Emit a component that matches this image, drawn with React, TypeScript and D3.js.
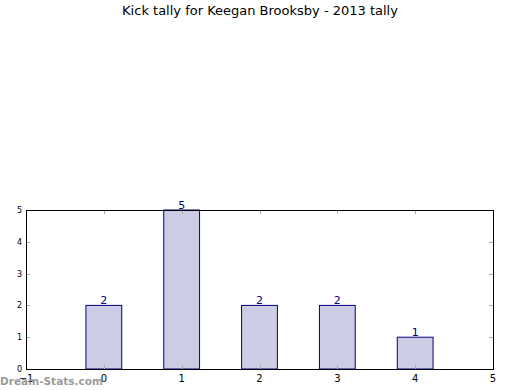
// @ts-nocheck
import React, { useEffect, useRef } from 'react';
import * as d3 from 'd3';

const categories = [0, 1, 2, 3, 4];
const tallies = [2, 5, 2, 2, 1];
const xTicks = [-1, 0, 1, 2, 3, 4, 5];
const yTicks = [0, 1, 2, 3, 4, 5];

const App: React.FC = () => {
  const ref = useRef<SVGSVGElement | null>(null);

  useEffect(() => {
    const svg = d3.select(ref.current);
    svg.selectAll('*').remove();

    const left = 26, right = 493, top = 210, bottom = 369;
    const x = d3.scaleLinear().domain([-1, 5]).range([left, right]);
    const y = d3.scaleLinear().domain([0, 5]).range([bottom, top]);
    const font = 'DejaVu Sans, sans-serif';

    svg.append('rect').attr('width', 520).attr('height', 390).attr('fill', '#fff');

    svg.append('text')
      .attr('x', 260).attr('y', 15)
      .attr('text-anchor', 'middle')
      .attr('font-family', font).attr('font-size', 13)
      .text('Kick tally for Keegan Brooksby - 2013 tally');

    const bw = 0.46;
    svg.selectAll('rect.bar')
      .data(categories)
      .enter()
      .append('rect')
      .attr('class', 'bar')
      .attr('x', (d) => x(d - bw / 2))
      .attr('width', (d) => x(d + bw / 2) - x(d - bw / 2))
      .attr('y', (d, i) => y(tallies[i]))
      .attr('height', (d, i) => bottom - y(tallies[i]))
      .attr('fill', '#ccccE5')
      .attr('stroke', '#000080')
      .attr('stroke-width', 1);

    svg.selectAll('text.val')
      .data(categories)
      .enter()
      .append('text')
      .attr('class', 'val')
      .attr('x', (d) => x(d))
      .attr('y', (d, i) => y(tallies[i]) - 1)
      .attr('text-anchor', 'middle')
      .attr('font-family', font).attr('font-size', 11)
      .attr('fill', '#000080')
      .text((d, i) => tallies[i]);

    // ticks (inward, top and bottom / left and right)
    const tick = svg.append('g').attr('stroke', '#aaa').attr('stroke-width', 1);
    xTicks.forEach((t) => {
      const px = Math.round(x(t)) + 0.5;
      tick.append('line').attr('x1', px).attr('x2', px).attr('y1', bottom).attr('y2', bottom - 4);
      tick.append('line').attr('x1', px).attr('x2', px).attr('y1', top).attr('y2', top + 4);
    });
    yTicks.forEach((t) => {
      const py = Math.round(y(t)) + 0.5;
      tick.append('line').attr('x1', left).attr('x2', left + 4).attr('y1', py).attr('y2', py);
      tick.append('line').attr('x1', right).attr('x2', right - 4).attr('y1', py).attr('y2', py);
    });

    svg.append('rect')
      .attr('x', left + 0.5).attr('y', top + 0.5)
      .attr('width', right - left).attr('height', bottom - top)
      .attr('fill', 'none').attr('stroke', '#000').attr('stroke-width', 1);

    svg.selectAll('text.xt')
      .data(xTicks)
      .enter()
      .append('text')
      .attr('class', 'xt')
      .attr('x', (d) => x(d))
      .attr('y', bottom + 13)
      .attr('text-anchor', 'middle')
      .attr('font-family', font).attr('font-size', 10)
      .text((d) => (d < 0 ? '\u2212' + Math.abs(d) : d));

    svg.selectAll('text.yt')
      .data(yTicks)
      .enter()
      .append('text')
      .attr('class', 'yt')
      .attr('x', left - 4)
      .attr('y', (d) => y(d) + 3)
      .attr('text-anchor', 'end')
      .attr('font-family', font).attr('font-size', 8)
      .text((d) => d);

    // watermark, drawn over the tick labels as in the original
    svg.append('text')
      .attr('x', 0).attr('y', 385)
      .attr('font-family', font).attr('font-size', 11).attr('font-weight', 'bold')
      .attr('textLength', 103).attr('lengthAdjust', 'spacingAndGlyphs')
      .attr('fill', '#888').attr('fill-opacity', 0.85)
      .text('Dream-Stats.com');
  }, []);

  return (
    <svg ref={ref} width={520} height={390} style={{ position: 'absolute', left: 0, top: 0 }}></svg>
  );
};

export default App;
